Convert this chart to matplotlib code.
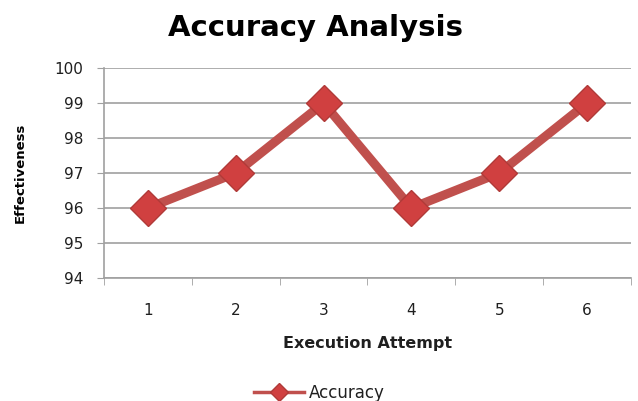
import matplotlib
matplotlib.use("Agg")
import matplotlib.pyplot as plt
from matplotlib.lines import Line2D

attempts = ["1", "2", "3", "4", "5", "6"]
accuracy = [96, 97, 99, 96, 97, 99]
y_ticks = [94, 95, 96, 97, 98, 99, 100]

line_color = "#C0504D"
grid_color = "#A0A0A0"
text_color = "#1F1F1F"

fig = plt.figure(figsize=(6.38, 4.01), dpi=100)
ax = fig.add_axes([0.163, 0.307, 0.826, 0.523])

x = list(range(1, len(attempts) + 1))
ax.plot(x, accuracy, color=line_color, linewidth=6.5, marker="D", markersize=18,
        markerfacecolor="#D04040", markeredgecolor="#B03A38", markeredgewidth=1,
        solid_joinstyle="miter", zorder=3)

ax.set_xlim(0.5, len(attempts) + 0.5)
ax.set_ylim(94, 100)
ax.set_yticks(y_ticks)
ax.set_xticks(x)
ax.set_xticklabels(attempts)
ax.set_xticks([i + 0.5 for i in range(0, len(attempts) + 1)], minor=True)
ax.tick_params(axis="x", which="major", length=0, pad=18, labelsize=11, labelcolor=text_color)
ax.tick_params(axis="x", which="minor", length=5, color=grid_color, direction="out")
ax.tick_params(axis="y", length=5, color=grid_color, direction="out", labelsize=11,
               labelcolor=text_color, pad=10)
ax.yaxis.grid(True, color=grid_color, linewidth=1.2)
ax.set_axisbelow(True)
for s in ["top", "right"]:
    ax.spines[s].set_visible(False)
for s in ["left", "bottom"]:
    ax.spines[s].set_color(grid_color)
    ax.spines[s].set_linewidth(1.2)

fig.text(0.494, 0.93, "Accuracy Analysis", ha="center", va="center",
         fontsize=21, fontweight="bold", color="black")
ax.set_xlabel("Execution Attempt", fontsize=11.5, fontweight="bold", color=text_color, labelpad=13)
ax.set_ylabel("Effectiveness", fontsize=9.5, fontweight="bold", color="black", labelpad=20)

handle = Line2D([], [], color=line_color, linewidth=2.5, marker="D", markersize=9,
                markerfacecolor="#D04040", markeredgecolor="#B03A38")
fig.legend(handles=[handle], labels=["Accuracy"], loc="center", bbox_to_anchor=(0.5, 0.02),
           frameon=False, fontsize=12, handlelength=3, handletextpad=0.3, labelcolor=text_color)

fig.savefig("out.png", dpi=100)
